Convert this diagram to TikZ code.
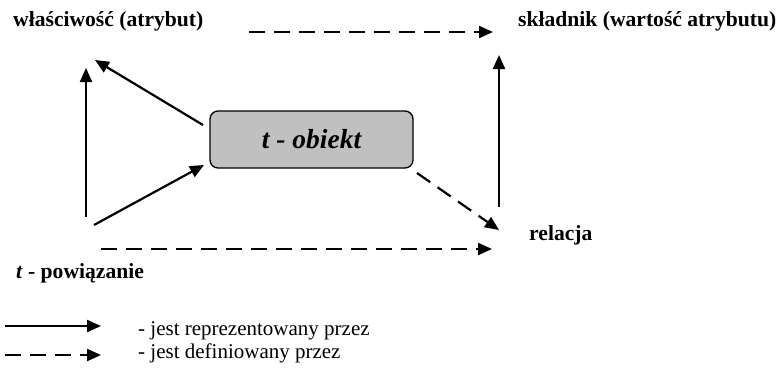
\documentclass[tikz,border=0pt]{standalone}
\usepackage{fontspec}
\setmainfont{Liberation Serif}
\usetikzlibrary{arrows.meta}

\definecolor{boxgray}{HTML}{C0C0C0}

\tikzset{
  rep/.style={line width=2.2pt,-{Triangle[length=14pt,width=12pt]}},
  defn/.style={rep,dash pattern=on 16pt off 9pt},
  term/.style={font=\fontsize{21.6}{24}\selectfont\bfseries,anchor=base west,inner sep=0pt},
  legtext/.style={font=\fontsize{21}{23}\selectfont,anchor=base west,inner sep=0pt}
}

\begin{document}
\begin{tikzpicture}[x=1pt,y=-1pt]
  \useasboundingbox (0,0) rectangle (781,368);

  % terms
  \node[term] (prop) at (13,26) {właściwość (atrybut)};
  \node[term] (comp) at (518,26) {składnik (wartość atrybutu)};
  \node[term] (rel) at (529,240) {relacja};
  \node[term] (link) at (16,278) {\textit{t} - powiązanie};

  % the object
  \node[draw,line width=1.3pt,fill=boxgray,rounded corners=8pt,
        minimum width=203pt,minimum height=57pt,
        font=\fontsize{27.5}{30}\selectfont\bfseries\itshape] (obj) at (311.5,139.5) {t - obiekt};

  % arrow ends
  \coordinate (p1) at (249,32);   \coordinate (p2) at (493,32);
  \coordinate (l1) at (86,217);   \coordinate (l2) at (86,68);
  \coordinate (o1) at (203,125);  \coordinate (o2) at (95,60);
  \coordinate (k1) at (94,225);   \coordinate (k2) at (204,165);
  \coordinate (b1) at (101,249);  \coordinate (b2) at (492,249);
  \coordinate (r1) at (417,173);  \coordinate (r2) at (499,230);
  \coordinate (v1) at (499,207);  \coordinate (v2) at (499,55);

  \draw[defn] (p1) -- (p2);
  \draw[rep] (l1) -- (l2);
  \draw[rep] (o1) -- (o2);
  \draw[rep] (k1) -- (k2);
  \draw[defn] (b1) -- (b2);
  \draw[defn] (r1) -- (r2);
  \draw[rep] (v1) -- (v2);

  % legend
  \coordinate (s1) at (5,326);  \coordinate (s2) at (101,326);
  \coordinate (d1) at (5,355);  \coordinate (d2) at (101,355);
  \draw[rep] (s1) -- (s2);
  \draw[defn] (d1) -- (d2);
  \node[legtext] (leg1) at (138,335) {- jest reprezentowany przez};
  \node[legtext] (leg2) at (138,358) {- jest definiowany przez};
\end{tikzpicture}
\end{document}
